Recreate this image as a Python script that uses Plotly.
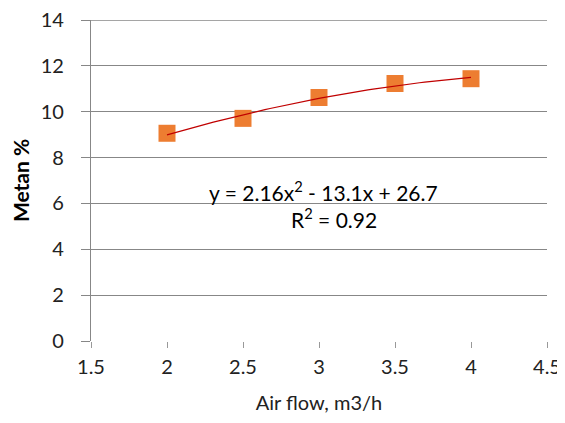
import numpy as np
import plotly.graph_objects as go

air_flow = [2.0, 2.5, 3.0, 3.5, 4.0]
metan = [9.06, 9.71, 10.62, 11.23, 11.44]
x_ticks = [1.5, 2, 2.5, 3, 3.5, 4, 4.5]
y_ticks = [0, 2, 4, 6, 8, 10, 12, 14]
eq_text = "y = 2.16x<sup>2</sup> - 13.1x + 26.7"
r2_text = "R<sup>2</sup> = 0.92"

coef = np.polyfit(air_flow, metan, 2)
xf = np.linspace(min(air_flow), max(air_flow), 60)
yf = np.polyval(coef, xf)

FONT = "Lato"
GRID = "#878787"
fig = go.Figure()
fig.add_trace(go.Scatter(x=air_flow, y=metan, mode="markers",
                         marker=dict(symbol="square", size=17, color="#ED7D31"),
                         showlegend=False))
fig.add_trace(go.Scatter(x=xf, y=yf, mode="lines",
                         line=dict(color="#C00000", width=1.2),
                         showlegend=False))

fig.add_annotation(x=3.03, y=6.55, text=eq_text, showarrow=False,
                   font=dict(family=FONT, size=21, color="#000"))
fig.add_annotation(x=3.1, y=5.35, text=r2_text, showarrow=False,
                   font=dict(family=FONT, size=21, color="#000"))
# top gridline (plotly omits the grid line at the range edge)
fig.add_hline(y=y_ticks[-1], line=dict(color=GRID, width=1.3))

fig.update_layout(
    width=557, height=415,
    margin=dict(l=83, r=18, t=12, b=82),
    plot_bgcolor="white", paper_bgcolor="white",
    font=dict(family=FONT, size=20, color="#222"),
    xaxis=dict(range=[1.5, 4.5], tickvals=x_ticks, ticktext=[str(v) for v in x_ticks],
               showgrid=False, zeroline=False, showline=False, automargin=False,
               ticks="outside", ticklen=6, tickcolor="#999", tickwidth=1,
               ticklabelstandoff=2, ticklabeloverflow="allow",
               title=dict(text="Air flow, m3/h", font=dict(family=FONT, size=20, color="#222"), standoff=18)),
    yaxis=dict(range=[0, 14], tickvals=y_ticks, automargin=False,
               showgrid=True, gridcolor=GRID, gridwidth=1.3,
               zeroline=False, showline=True, linecolor=GRID, linewidth=1.3,
               ticks="outside", ticklen=9, tickcolor=GRID, tickwidth=1.3,
               ticklabelstandoff=13, ticklabeloverflow="allow",
               title=dict(text="<b>Metan %</b>", font=dict(family=FONT, size=21, color="#000"), standoff=10)),
)
fig.write_html("out.html")
